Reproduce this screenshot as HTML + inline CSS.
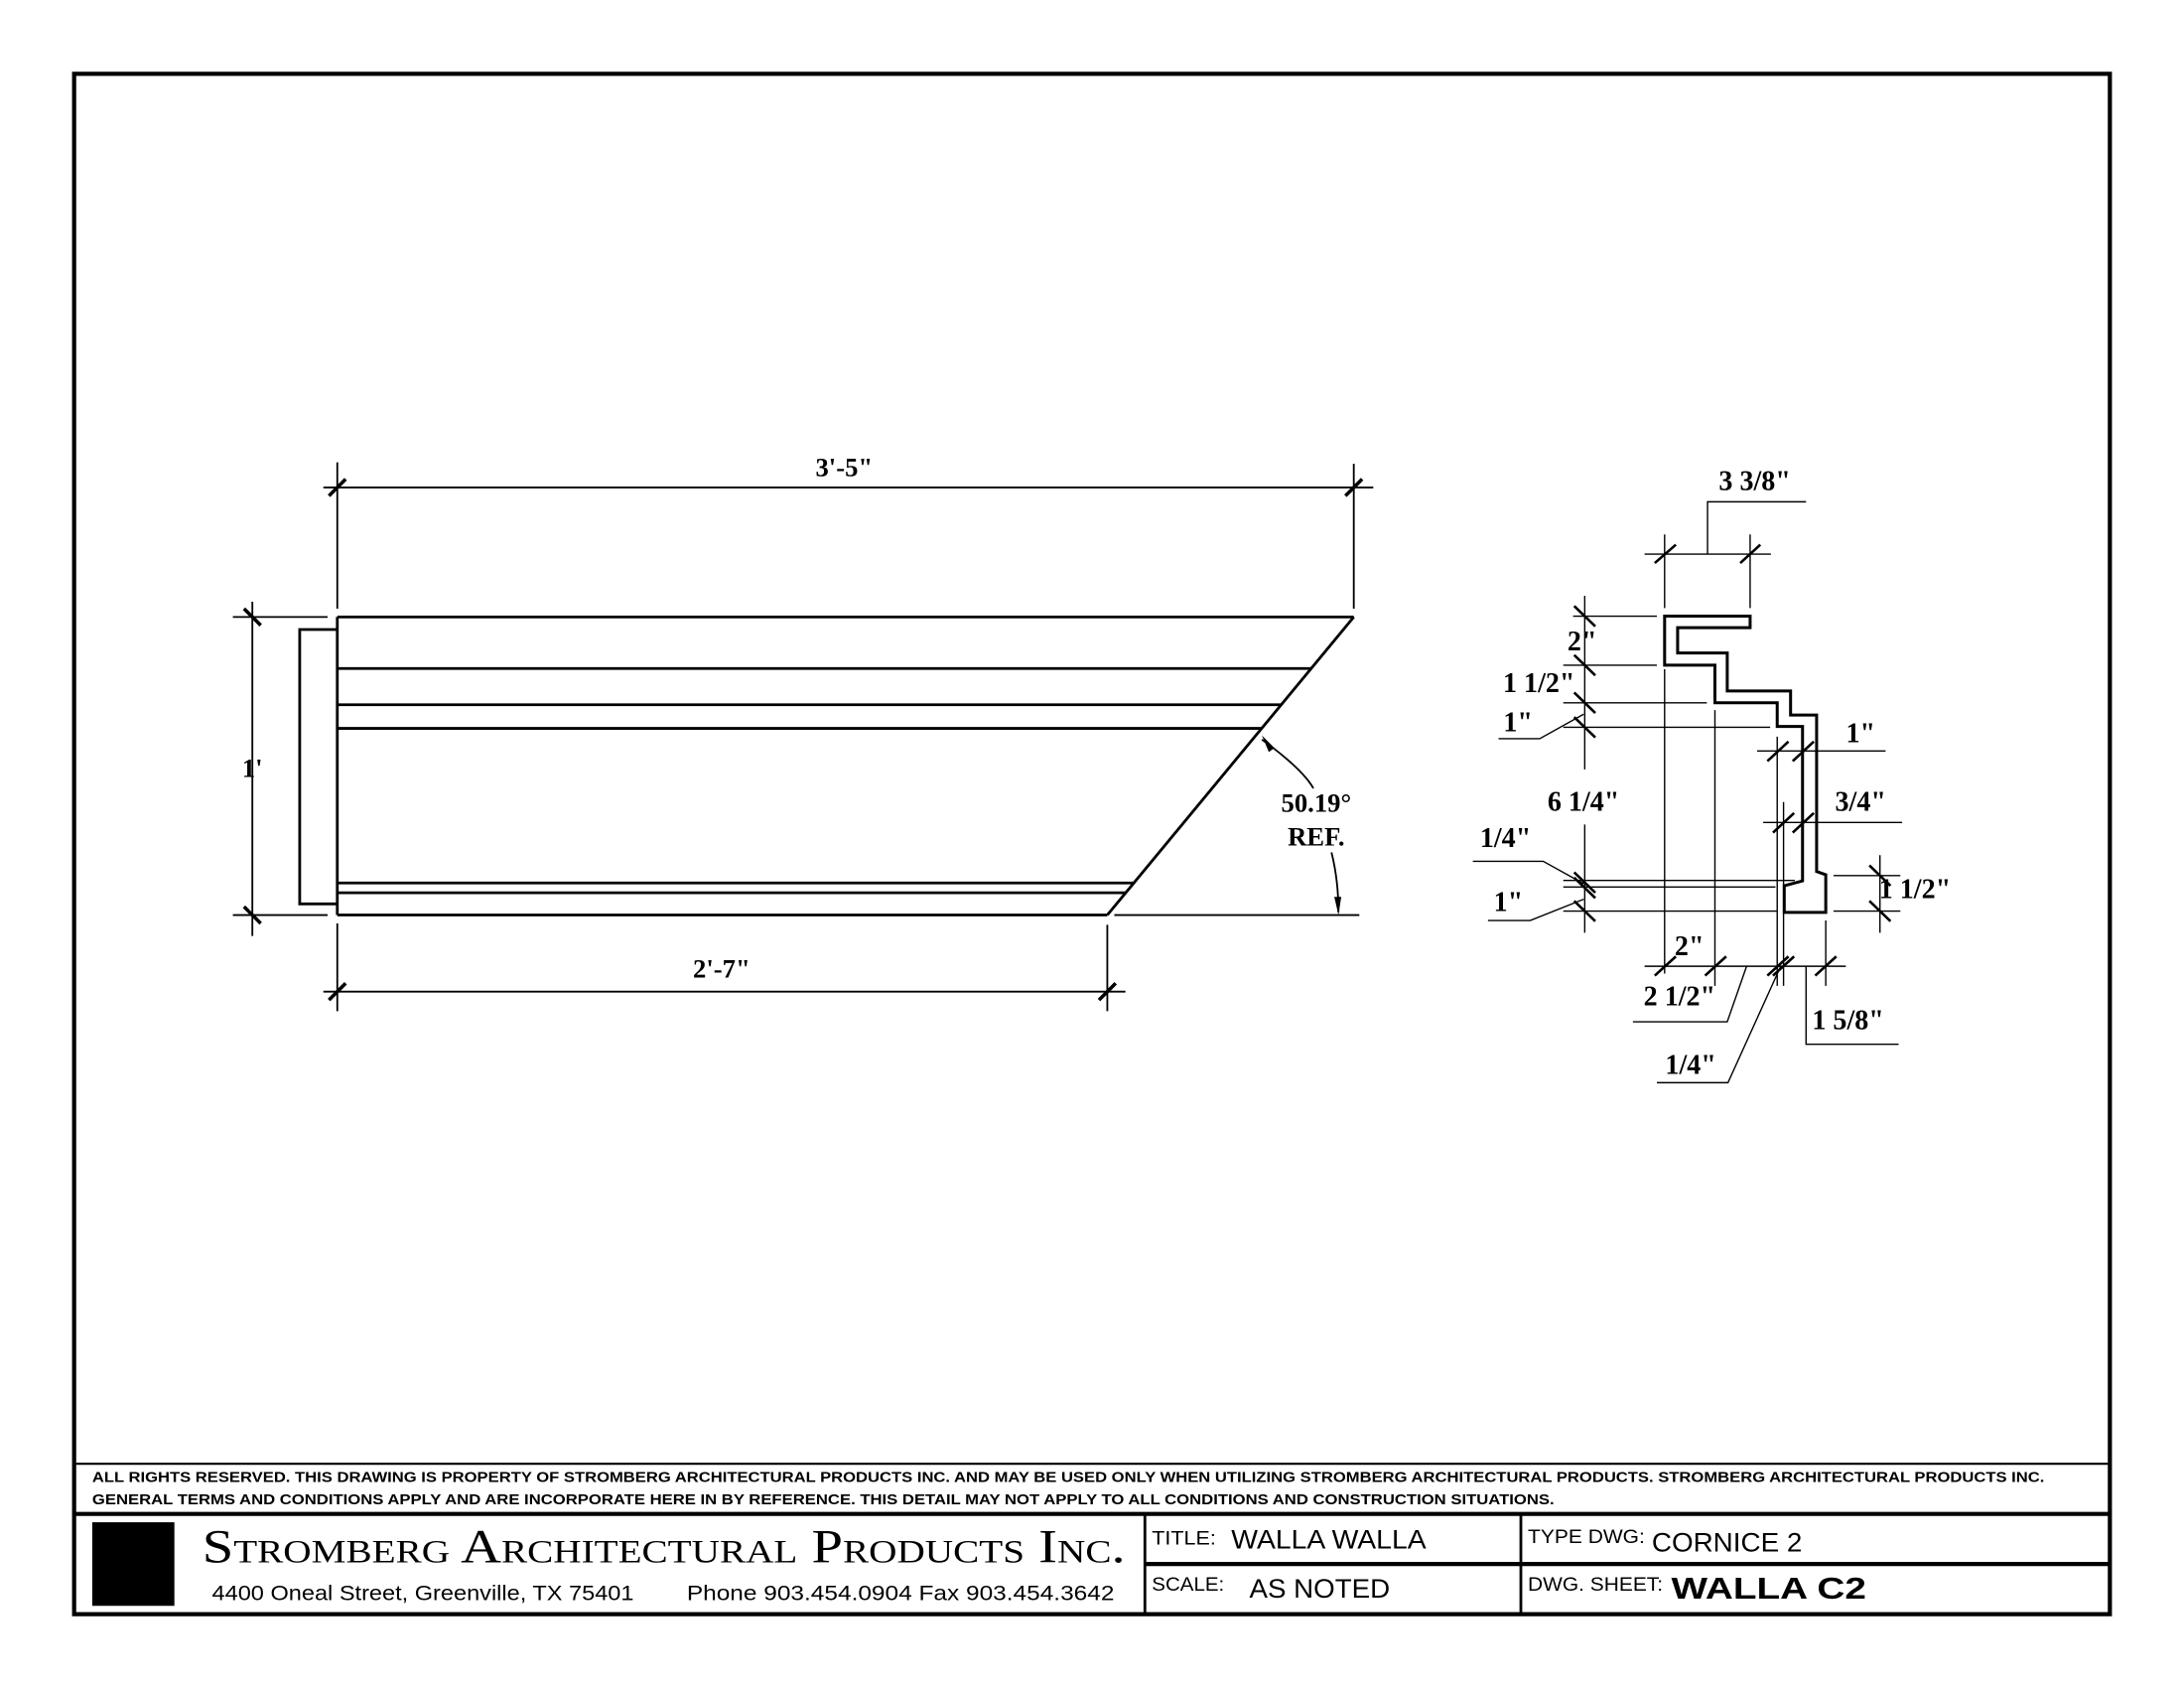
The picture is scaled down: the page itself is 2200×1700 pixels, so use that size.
<!DOCTYPE html>
<html><head><style>html,body{margin:0;padding:0;background:#fff}svg{display:block}</style></head>
<body>
<svg width="2200" height="1700" viewBox="0 0 1568 1212" xmlns="http://www.w3.org/2000/svg">
<rect width="1568" height="1212" fill="#fff"/>
<g fill="none" stroke="#000">
<rect x="53" y="53" width="1462" height="1106" stroke-width="3"/>
<line x1="53" y1="1051" x2="1515" y2="1051" stroke-width="1.5"/>
<line x1="53" y1="1087" x2="1515" y2="1087" stroke-width="3"/>
<line x1="822" y1="1087" x2="822" y2="1159" stroke-width="2"/>
<line x1="1092" y1="1087" x2="1092" y2="1159" stroke-width="2"/>
<line x1="822" y1="1123" x2="1515" y2="1123" stroke-width="3"/>
</g>
<rect x="66" y="1093" width="59" height="60" fill="#000"/>

<g fill="none" stroke="#000" stroke-width="2">
<line x1="242" y1="443" x2="972" y2="443"/>
<line x1="242" y1="480" x2="942" y2="480"/>
<line x1="242" y1="506" x2="920" y2="506"/>
<line x1="242" y1="523" x2="906" y2="523"/>
<line x1="242" y1="634" x2="814" y2="634"/>
<line x1="242" y1="641" x2="808" y2="641"/>
<line x1="242" y1="657" x2="795" y2="657"/>
<line x1="972" y1="443" x2="795" y2="657"/>
<polyline points="242,452 215,452 215,649 242,649"/>
<line x1="242" y1="443" x2="242" y2="657"/>
</g>
<g fill="none" stroke="#000" stroke-width="1.3">
<line x1="242" y1="332" x2="242" y2="437"/>
<line x1="242" y1="663" x2="242" y2="726"/>
<line x1="972" y1="333" x2="972" y2="437"/>
<line x1="232" y1="350" x2="986" y2="350"/>
<line x1="181" y1="432" x2="181" y2="672"/>
<line x1="167" y1="443" x2="235" y2="443"/>
<line x1="167" y1="657" x2="235" y2="657"/>
<line x1="795" y1="664" x2="795" y2="726"/>
<line x1="232" y1="712" x2="808" y2="712"/>
<line x1="800" y1="657" x2="976" y2="657"/>
<path d="M906,531 Q935,552 943,566"/>
<path d="M956,612 Q961,632 961,655"/>
</g>
<g stroke="#000" stroke-width="2.5">
<line x1="236" y1="356" x2="248" y2="344"/>
<line x1="966" y1="356" x2="978" y2="344"/>
<line x1="175" y1="437" x2="187" y2="449"/>
<line x1="175" y1="651" x2="187" y2="663"/>
<line x1="236" y1="718" x2="248" y2="706"/>
<line x1="789" y1="718" x2="801" y2="706"/>
</g>
<path d="M906,528 L915,537 L911,540 Z" fill="#000"/>
<path d="M961,657 L958,644 L963,644 Z" fill="#000"/>
<g font-family="Liberation Serif, serif" font-weight="bold" font-size="19" fill="#000" text-anchor="middle">
<text x="606" y="342">3'-5"</text>
<text x="181" y="558">1'</text>
<text x="518" y="702">2'-7"</text>
<text x="945" y="583">50.19°</text>
<text x="945" y="607">REF.</text>
</g>

<g transform="translate(1033.5,320.7) scale(0.2527,0.2933)" fill="none" stroke="#000">
<path vector-effect="non-scaling-stroke" stroke-width="3" d="M640,415 L883,415 L883,443 L677,443 L677,505 L818,505 L818,598 L998,598 L998,657 L1072,657 L1072,1040 L1098,1048 L1098,1140 L980,1140 L980,1075 L1032,1063 L1032,685 L960,685 L960,627 L783,627 L783,535 L640,535 Z"/>
<g stroke-width="1.4">
<path vector-effect="non-scaling-stroke" d="M583,263 H942 M640,215 V395 M883,215 V395 M762,263 V135 H1042"/>
<path vector-effect="non-scaling-stroke" d="M413,365 V790 M413,925 V1190 M380,415 H618 M352,535 H618 M352,627 H760 M352,687 H940 M352,1062 H1010 M352,1078 H955 M352,1137 H958"/>
<path vector-effect="non-scaling-stroke" d="M168,715 H285 L410,655 M95,1015 H295 L410,1070 M138,1160 H258 L410,1108"/>
<path vector-effect="non-scaling-stroke" d="M640,545 V1290 M783,645 V1320"/>
<path vector-effect="non-scaling-stroke" d="M903,745 H1268 M960,710 V1320 M920,920 H1315 M978,870 V1320"/>
<path vector-effect="non-scaling-stroke" d="M1252,1000 V1190 M1120,1050 H1310 M1120,1137 H1310"/>
<path vector-effect="non-scaling-stroke" d="M583,1272 H1155 M1098,1160 V1320 M873,1272 L818,1408 H550 M970,1272 L820,1557 H618 M1042,1272 V1463 H1305"/>
</g>
<g stroke-width="2.6">
<path vector-effect="non-scaling-stroke" d="M612,285 L672,240 M855,285 L912,240"/>
<path vector-effect="non-scaling-stroke" d="M383,390 L443,440 M383,510 L443,560 M383,602 L443,652 M383,662 L443,712 M383,1042 L443,1092 M383,1055 L443,1105 M383,1112 L443,1162"/>
<path vector-effect="non-scaling-stroke" d="M932,770 L992,722 M1004,770 L1064,722 M948,945 L1008,897 M1004,945 L1064,897"/>
<path vector-effect="non-scaling-stroke" d="M1222,1025 L1282,1075 M1222,1112 L1282,1162"/>
<path vector-effect="non-scaling-stroke" d="M612,1295 L672,1248 M755,1295 L815,1248 M932,1295 L992,1248 M948,1295 L1008,1248 M1068,1295 L1128,1248"/>
</g>
</g>
<g font-family="Liberation Serif, serif" font-weight="bold" font-size="20" fill="#000" text-anchor="middle">
<text x="1260" y="352">3 3/8"</text>
<text x="1136" y="467">2"</text>
<text x="1105" y="497">1 1/2"</text>
<text x="1090" y="525">1"</text>
<text x="1137" y="582">6 1/4"</text>
<text x="1081" y="608">1/4"</text>
<text x="1083" y="654">1"</text>
<text x="1336" y="533">1"</text>
<text x="1336" y="582">3/4"</text>
<text x="1375" y="645">1 1/2"</text>
<text x="1213" y="686">2"</text>
<text x="1206" y="722">2 1/2"</text>
<text x="1327" y="739">1 5/8"</text>
<text x="1214" y="771">1/4"</text>
</g>

<g font-family="Liberation Sans, sans-serif" fill="#000">
<text x="66" y="1064" font-size="10.5" font-weight="bold" textLength="1402" lengthAdjust="spacingAndGlyphs">ALL RIGHTS RESERVED. THIS DRAWING IS PROPERTY OF STROMBERG ARCHITECTURAL PRODUCTS INC. AND MAY BE USED ONLY WHEN UTILIZING STROMBERG ARCHITECTURAL PRODUCTS.  STROMBERG ARCHITECTURAL PRODUCTS INC.</text>
<text x="66" y="1080" font-size="10.5" font-weight="bold" textLength="1050" lengthAdjust="spacingAndGlyphs">GENERAL TERMS AND CONDITIONS APPLY AND ARE INCORPORATE HERE IN BY REFERENCE.  THIS DETAIL MAY NOT APPLY TO ALL CONDITIONS AND CONSTRUCTION SITUATIONS.</text>
<text x="145" y="1122" font-family="Liberation Serif, serif" font-size="34" style="font-variant:small-caps" textLength="663" lengthAdjust="spacingAndGlyphs">Stromberg Architectural Products Inc.</text>
<text x="152" y="1149" font-size="15" textLength="303" lengthAdjust="spacingAndGlyphs">4400 Oneal Street, Greenville, TX  75401</text>
<text x="493" y="1149" font-size="15" textLength="307" lengthAdjust="spacingAndGlyphs">Phone 903.454.0904   Fax 903.454.3642</text>
<text x="827" y="1109" font-size="14" textLength="46" lengthAdjust="spacingAndGlyphs">TITLE:</text>
<text x="884" y="1112" font-size="19" textLength="140" lengthAdjust="spacingAndGlyphs">WALLA WALLA</text>
<text x="827" y="1142" font-size="14" textLength="52" lengthAdjust="spacingAndGlyphs">SCALE:</text>
<text x="897" y="1147" font-size="19" textLength="101" lengthAdjust="spacingAndGlyphs">AS NOTED</text>
<text x="1097" y="1108" font-size="14" textLength="84" lengthAdjust="spacingAndGlyphs">TYPE DWG:</text>
<text x="1186" y="1114" font-size="19" textLength="108" lengthAdjust="spacingAndGlyphs">CORNICE 2</text>
<text x="1097" y="1142" font-size="14" textLength="97" lengthAdjust="spacingAndGlyphs">DWG. SHEET:</text>
<text x="1200" y="1148" font-size="22" font-weight="bold" textLength="140" lengthAdjust="spacingAndGlyphs">WALLA C2</text>
</g>
</svg>
</body></html>
